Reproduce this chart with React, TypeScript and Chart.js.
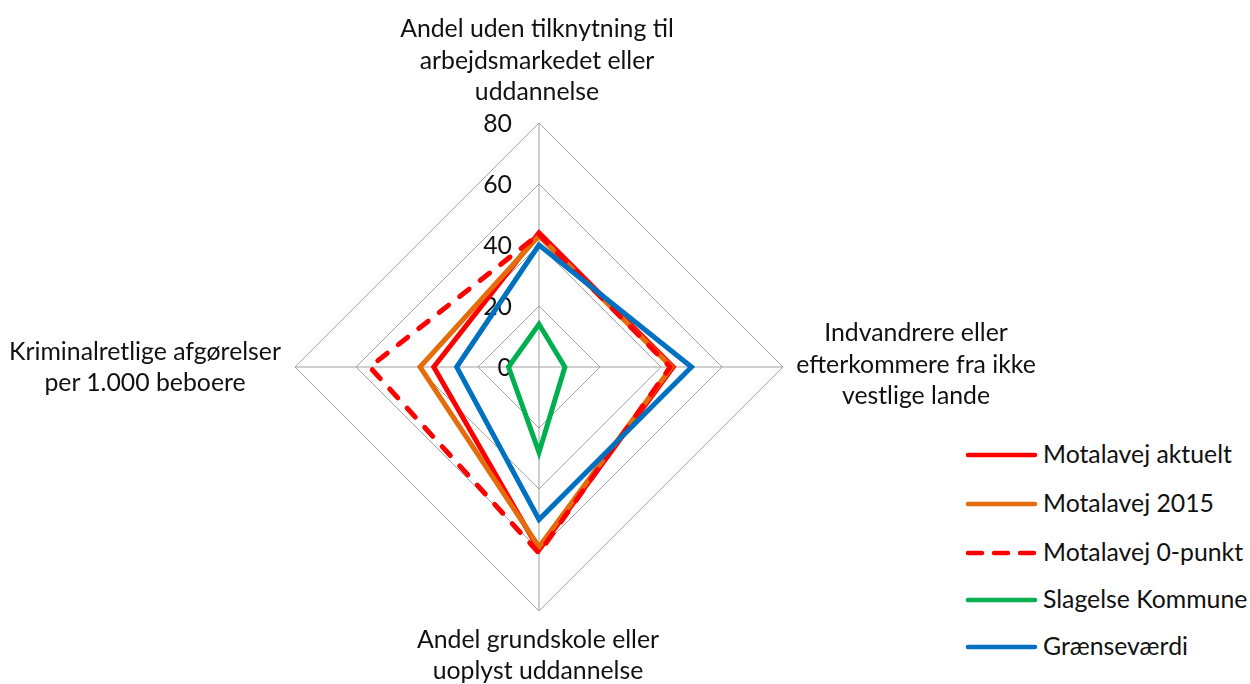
import React, { useEffect, useRef } from "react";
import { Chart, registerables } from "chart.js";

Chart.register(...registerables);

// ---- data ----
const categories: string[][] = [
  ["Andel uden tilknytning til", "arbejdsmarkedet eller", "uddannelse"],
  ["Indvandrere eller", "efterkommere fra ikke", "vestlige lande"],
  ["Andel grundskole eller", "uoplyst uddannelse"],
  ["Kriminalretlige afgørelser", "per 1.000 beboere"],
];
const seriesNames = [
  "Motalavej aktuelt",
  "Motalavej 2015",
  "Motalavej 0-punkt",
  "Slagelse Kommune",
  "Grænseværdi",
];
const motalavejAktuelt = [44, 44, 60, 34.5];
const motalavej2015 = [43, 43.5, 59, 39];
const motalavej0punkt = [43.5, 43, 61, 55.5];
const slagelseKommune = [14, 8.5, 28, 10];
const graensevaerdi = [40, 50, 50, 27];
const tickValues = [0, 20, 40, 60, 80];

// ---- styles ----
const seriesValues = [motalavejAktuelt, motalavej2015, motalavej0punkt, slagelseKommune, graensevaerdi];
const seriesColors = ["#FF0000", "#E46C0A", "#FF0000", "#00B050", "#0070C0"];
const seriesDashed = [false, false, true, false, false];

const FONT = "Lato, 'Open Sans', sans-serif";
const FS = 24.8;
const LH = 31.5;
const TEXT = "#111111";

// label blocks: center x, top y
const labelPos = [
  { cx: 537, top: 12 },
  { cx: 916, top: 316 },
  { cx: 538, top: 622.5 },
  { cx: 145, top: 334.5 },
];
const legendRows = [455, 504, 553, 600, 647];

export default function App() {
  const ref = useRef<HTMLCanvasElement>(null);

  useEffect(() => {
    if (!ref.current) return;
    const tickPlugin = {
      id: "tickLabels",
      beforeDatasetsDraw(chart: any) {
        const s = chart.scales.r;
        const ctx = chart.ctx;
        ctx.save();
        ctx.font = `${FS}px ${FONT}`;
        ctx.fillStyle = TEXT;
        ctx.textAlign = "right";
        ctx.textBaseline = "alphabetic";
        s.ticks.forEach((t: any) => {
          const d = s.getDistanceFromCenterForValue(t.value);
          ctx.fillText(String(t.value), s.xCenter - 27, s.yCenter - d + 9);
        });
        ctx.restore();
      },
    };

    const chart = new Chart(ref.current, {
      type: "radar",
      data: {
        labels: categories,
        datasets: seriesValues.map((vals, i) => ({
          label: seriesNames[i],
          data: vals,
          borderColor: seriesColors[i],
          backgroundColor: "transparent",
          borderWidth: 5,
          borderDash: seriesDashed[i] ? [12, 14] : [],
          borderCapStyle: seriesDashed[i] ? "round" : "butt",
          borderJoinStyle: seriesDashed[i] ? "round" : "miter",
          fill: false,
          pointRadius: 0,
          pointHoverRadius: 0,
          tension: 0,
          order: seriesValues.length - i,
        })),
      },
      options: {
        responsive: false,
        animation: false,
        layout: { padding: 56 },
        plugins: {
          legend: { display: false },
          tooltip: { enabled: false },
        },
        scales: {
          r: {
            min: tickValues[0],
            max: tickValues[tickValues.length - 1],
            ticks: { stepSize: tickValues[1] - tickValues[0], display: false },
            pointLabels: { display: false },
            grid: { color: "#A6A6A6", lineWidth: 1 },
            angleLines: { color: "#A0A0A0", lineWidth: 1 },
          },
        },
      },
      plugins: [tickPlugin],
    } as any);
    return () => chart.destroy();
  }, []);

  return (
    <div
      style={{
        position: "absolute",
        left: 0,
        top: 0,
        width: 1250,
        height: 684,
        overflow: "hidden",
        fontFamily: FONT,
        fontSize: FS,
        lineHeight: LH + "px",
        color: TEXT,
        background: "#fff",
      }}
    >
      <canvas
        ref={ref}
        width={600}
        height={600}
        style={{ position: "absolute", left: 239, top: 67, width: 600, height: 600 }}
      />
      {categories.map((lines, i) => (
        <div
          key={i}
          style={{
            position: "absolute",
            left: labelPos[i].cx - 200,
            top: labelPos[i].top,
            width: 400,
            textAlign: "center",
            whiteSpace: "nowrap",
          }}
        >
          {lines.map((l, j) => (
            <div key={j}>{l}</div>
          ))}
        </div>
      ))}
      {seriesNames.map((name, i) => (
        <div key={name}>
          <svg
            width={90}
            height={12}
            style={{ position: "absolute", left: 960, top: legendRows[i] - 6 }}
          >
            <line
              x1={8}
              y1={6}
              x2={75}
              y2={6}
              stroke={seriesColors[i]}
              strokeWidth={4.5}
              strokeLinecap="round"
              strokeDasharray={seriesDashed[i] ? "14 12" : undefined}
            />
          </svg>
          <div
            style={{
              position: "absolute",
              left: 1043,
              top: legendRows[i] - 17.2,
              whiteSpace: "nowrap",
            }}
          >
            {name}
          </div>
        </div>
      ))}
    </div>
  );
}
